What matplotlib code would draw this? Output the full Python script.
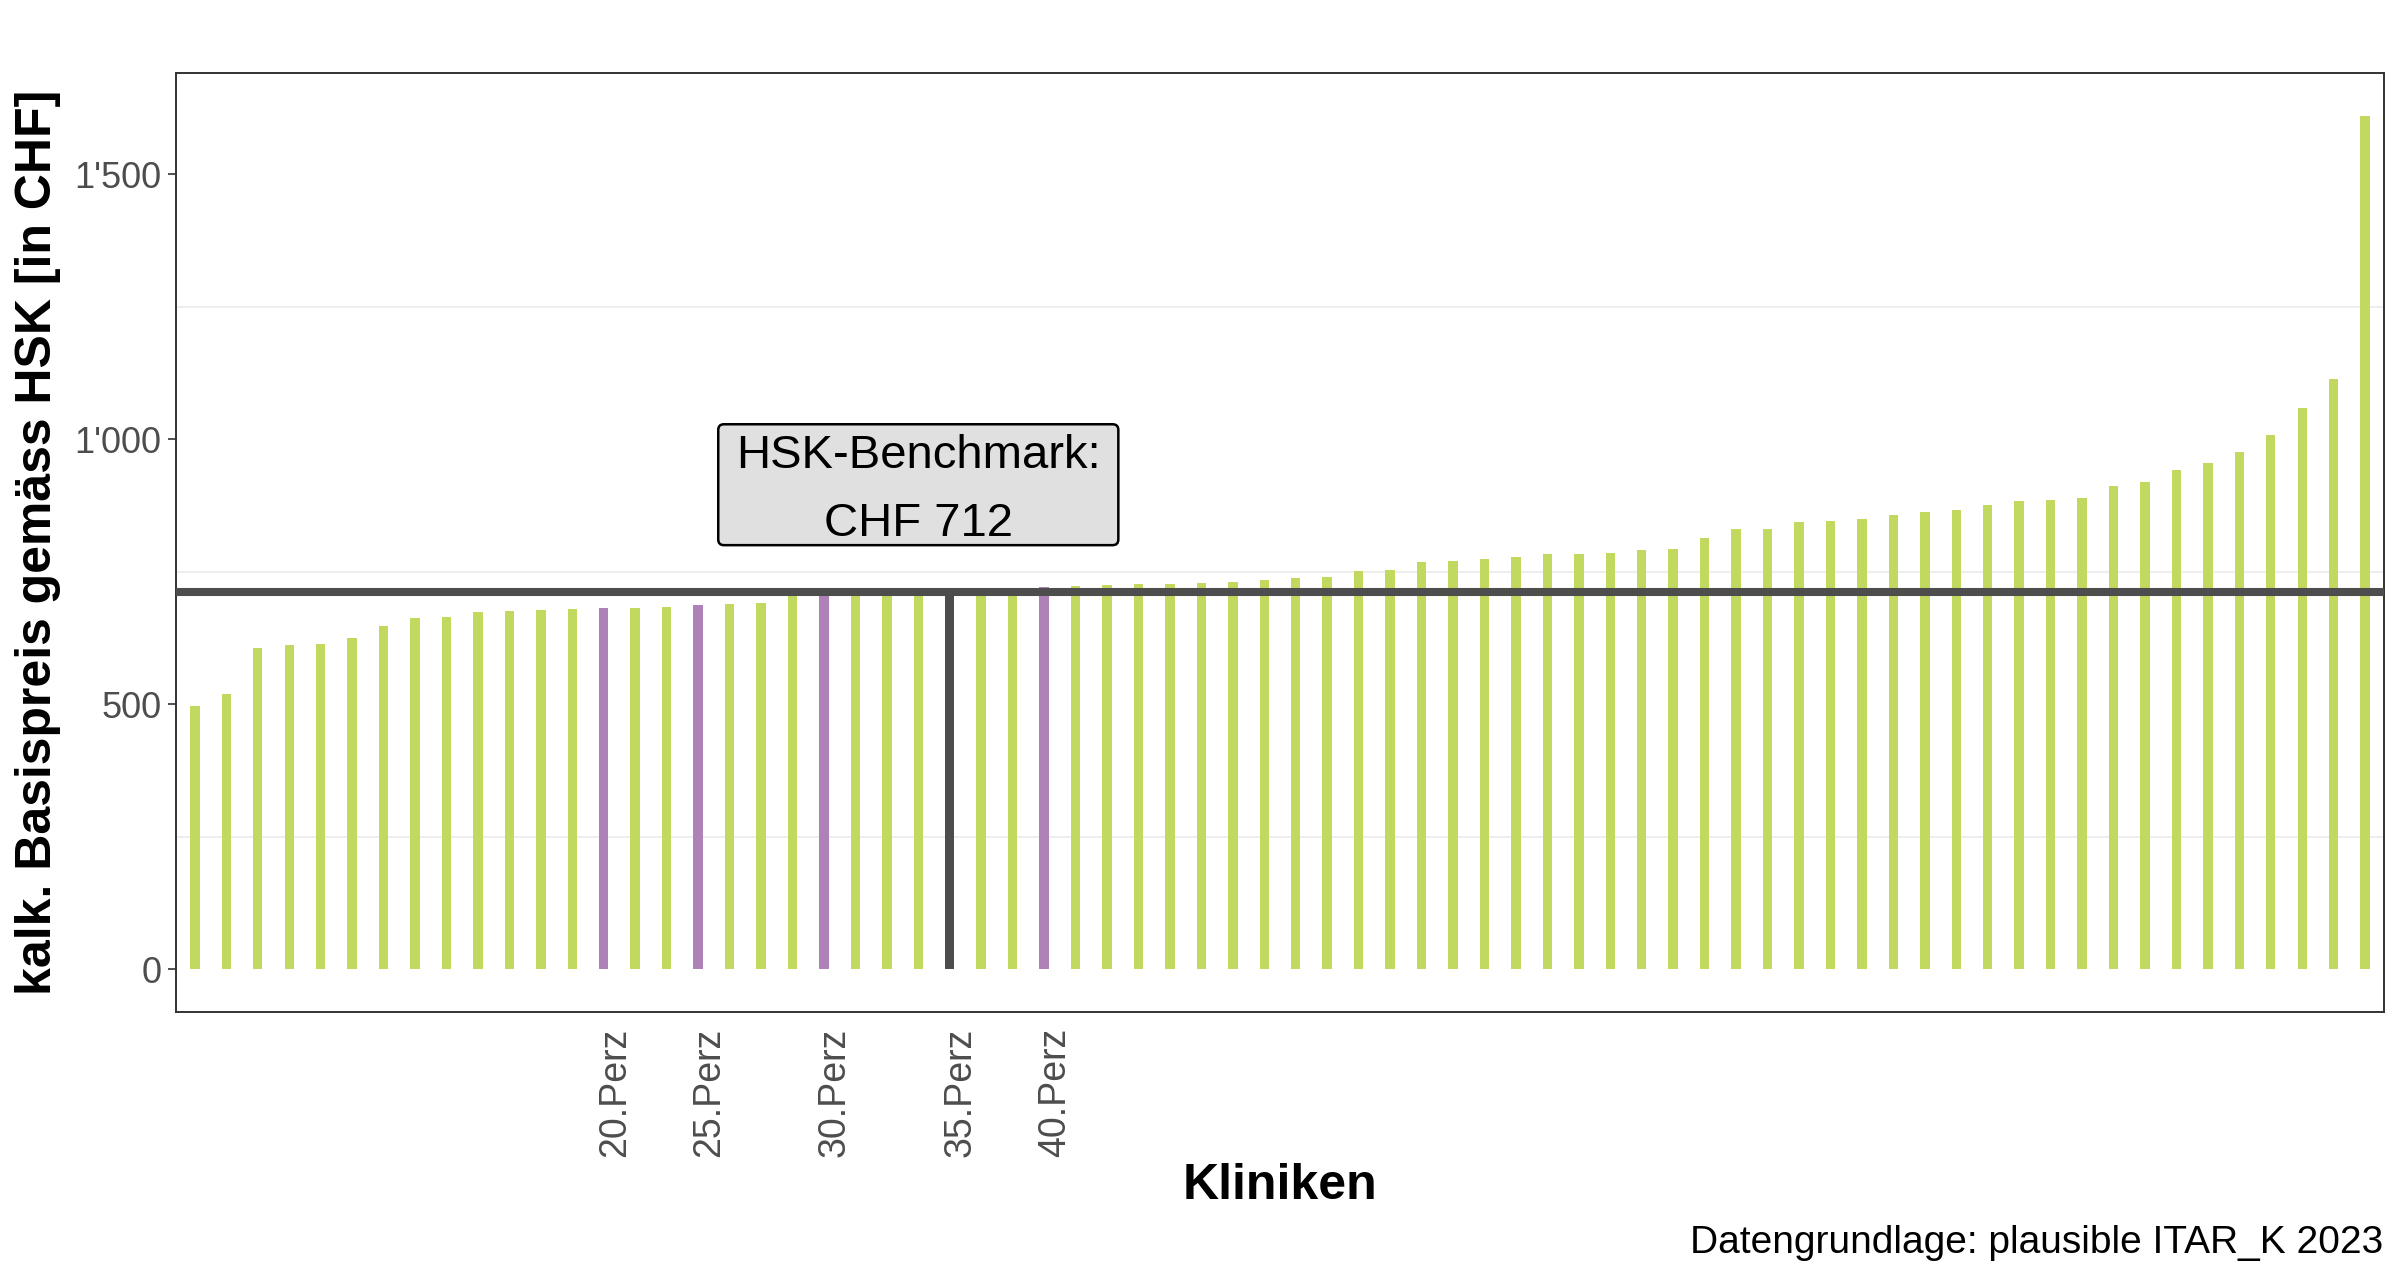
import matplotlib
matplotlib.use("Agg")
import matplotlib.pyplot as plt
import matplotlib.transforms as mtransforms
from matplotlib.patches import FancyBboxPatch
import numpy as np

plt.rcParams['font.family'] = ['Liberation Sans', 'DejaVu Sans']

# ---- data ----
values = [497, 520, 606, 611, 613, 625, 648, 662, 664, 674,
          675, 677, 679, 681, 682, 683, 687, 689, 691, 704,
          706, 708, 709, 710, 712, 714, 716, 722, 723, 725,
          726, 727, 729, 731, 735, 738, 739, 752, 754, 769,
          770, 773, 778, 783, 783, 785, 791, 793, 813, 831,
          831, 843, 846, 849, 856, 863, 866, 875, 884, 886,
          888, 911, 919, 942, 955, 976, 1008, 1058, 1113, 1610]
percentile_pos = [13, 16, 20, 24, 27]
percentile_labels = ["20.Perz", "25.Perz", "30.Perz", "35.Perz", "40.Perz"]
benchmark_pos = 24
benchmark_value = 712
benchmark_label = "HSK-Benchmark:\nCHF 712"
ytick_values = [0, 500, 1000, 1500]
ytick_labels = ["0", "500", "1'000", "1'500"]
minor_grid = [250, 750, 1250]
ylabel = "kalk. Basispreis gemäss HSK [in CHF]"
xlabel = "Kliniken"
caption = "Datengrundlage: plausible ITAR_K 2023"

GREEN = "#C1D95E"
PURPLE = "#AE82B8"
DARK = "#4D4D4D"

colors = []
for i in range(len(values)):
    if i == benchmark_pos:
        colors.append(DARK)
    elif i in percentile_pos:
        colors.append(PURPLE)
    else:
        colors.append(GREEN)

fig = plt.figure(figsize=(12, 6.4), dpi=200)
ax = fig.add_axes([176/2400, 1-1012/1280, (2384-176)/2400, (1012-73)/1280])

x = np.arange(len(values))
ax.bar(x, values, width=0.3, color=colors, zorder=2)
ax.axhline(benchmark_value, color=DARK, lw=2.9, zorder=3)

for g in minor_grid:
    ax.axhline(g, color="#EBEBEB", lw=0.6, zorder=0)

ax.set_xlim(-0.6, len(values) - 0.4)
vmax = max(values)
ax.set_ylim(-0.05 * vmax, vmax * 1.05)

ax.set_yticks(ytick_values)
ax.set_yticklabels(ytick_labels, fontsize=13, color="#4D4D4D")
ax.tick_params(axis='y', length=2.75, width=0.6, color="#333333", pad=2.5)
ax.set_xticks(percentile_pos)
ax.set_xticklabels(percentile_labels, rotation=90, fontsize=13.5, color="#4D4D4D")
ax.tick_params(axis='x', length=0, pad=5.5)
offset = mtransforms.ScaledTranslation(0.055, 0, fig.dpi_scale_trans)
for lab in ax.get_xticklabels():
    lab.set_transform(lab.get_transform() + offset)

for s in ax.spines.values():
    s.set_color("#333333")
    s.set_linewidth(0.7)

# benchmark label box
lab_x, lab_y = 23.0, 914
box_w, box_h = 12.72, 228
fig.canvas.draw()
p0 = ax.transData.transform((0, 0))
p1 = ax.transData.transform((1, 1))
aspect = (1 / (p1[1] - p0[1])) / (1 / (p1[0] - p0[0]))
box = FancyBboxPatch((lab_x - box_w / 2, lab_y - box_h / 2), box_w, box_h,
                     boxstyle="round,pad=0,rounding_size=0.18",
                     mutation_aspect=aspect, fc='#E0E0E0', ec='black',
                     lw=0.9, zorder=5)
ax.add_patch(box)
ax.text(lab_x, lab_y - 10, benchmark_label, ha='center', va='center', fontsize=17,
        linespacing=1.72, color='black', zorder=6)

fig.text(0.016, 1-542.5/1280, ylabel, rotation=90, ha='center', va='center',
         fontsize=18, fontweight='bold', color='black')
fig.text(1280/2400, 1-1186/1280, xlabel, ha='center', va='center',
         fontsize=18, fontweight='bold', color='black')
fig.text(2383/2400, 1-1243/1280, caption, ha='right', va='center',
         fontsize=14, color='black')

fig.savefig("out.png", dpi=200, facecolor='white')
